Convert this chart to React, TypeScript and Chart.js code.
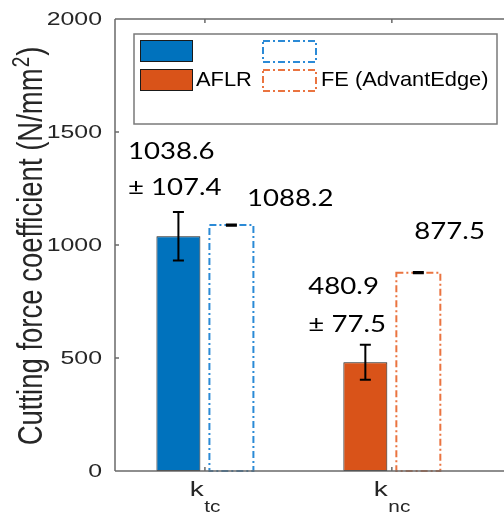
import React, { useEffect, useRef } from 'react';
import { Chart, registerables } from 'chart.js';

Chart.register(...registerables);

// ---- data ----
const categorySubscripts = ['tc', 'nc']; // x labels: k_tc, k_nc
const categoryPositions = [1, 2];
const aflrValues = [1038.6, 480.9];
const aflrErrors = [107.4, 77.5];
const feValues = [1088.2, 877.5];
const feErrors = [3, 3];
const yTicks = [0, 500, 1000, 1500, 2000];
const seriesNames = ['AFLR', 'FE (AdvantEdge)'];
const yTitle = 'Cutting force coefficient (N/mm';
const yTitleSup = '2';

// ---- style ----
const aflrColors = ['#0072BD', '#D95319'];
const feColors = ['#2B8AD6', '#EA7440'];
const AXIS = '#6a6a6a';
const SANS = '"Liberation Sans", Arial, Helvetica, sans-serif';
const LABEL_FONT = 'Lato, "Open Sans", sans-serif';

// label layout offsets (pixels, relative to the bar element / error-bar top)
const labelLayout = [
  [{ dx: -50.5, dy: -53, gap: 35.5 }, { dx: -57, dy: -51, gap: 38 }],
  [{ dx: 15.5, dy: -18.5, gap: 0 }, { dx: -4, dy: -33, gap: 0 }],
];

function drawText(
  ctx: CanvasRenderingContext2D,
  text: string,
  x: number,
  y: number,
  font: string,
  sx: number,
  align: 'left' | 'center' | 'right' = 'left',
  baseline: CanvasTextBaseline = 'alphabetic',
  color = '#000'
) {
  ctx.save();
  ctx.font = font;
  ctx.fillStyle = color;
  ctx.textBaseline = baseline;
  ctx.textAlign = 'left';
  const w = ctx.measureText(text).width * sx;
  let x0 = x;
  if (align === 'center') x0 = x - w / 2;
  else if (align === 'right') x0 = x - w;
  ctx.translate(x0, y);
  ctx.scale(sx, 1);
  ctx.fillText(text, 0, 0);
  ctx.restore();
  return w;
}

const matlabPlugin = {
  id: 'matlabLook',
  afterDatasetsDraw(chart: any) {
    const ctx: CanvasRenderingContext2D = chart.ctx;
    const xs = chart.scales.x;
    const ys = chart.scales.y;
    const area = chart.chartArea;
    const W = chart.width;

    const aflrMeta = chart.getDatasetMeta(0);
    const feMeta = chart.getDatasetMeta(1);

    // dashed FE outlines
    feMeta.data.forEach((el: any, i: number) => {
      const p = el.getProps(['x', 'y', 'base', 'width'], true);
      ctx.save();
      ctx.strokeStyle = feColors[i];
      ctx.lineWidth = 2;
      ctx.setLineDash([7, 3, 2, 3]);
      ctx.strokeRect(p.x - p.width / 2, p.y, p.width, p.base - p.y);
      ctx.restore();
    });

    // error bars
    const errSets = [
      { meta: aflrMeta, vals: aflrValues, errs: aflrErrors },
      { meta: feMeta, vals: feValues, errs: feErrors },
    ];
    errSets.forEach(({ meta, vals, errs }) => {
      meta.data.forEach((el: any, i: number) => {
        const x = el.x;
        const top = ys.getPixelForValue(vals[i] + errs[i]);
        const bot = ys.getPixelForValue(vals[i] - errs[i]);
        ctx.save();
        ctx.strokeStyle = '#000';
        ctx.lineWidth = 2;
        ctx.beginPath();
        ctx.moveTo(x, top);
        ctx.lineTo(x, bot);
        ctx.moveTo(x - 5.5, top);
        ctx.lineTo(x + 5.5, top);
        ctx.moveTo(x - 5.5, bot);
        ctx.lineTo(x + 5.5, bot);
        ctx.stroke();
        ctx.restore();
      });
    });

    // value labels
    const vfont = `24px ${LABEL_FONT}`;
    const vsx = 1.15;
    aflrMeta.data.forEach((el: any, i: number) => {
      const L = labelLayout[0][i];
      const top = ys.getPixelForValue(aflrValues[i] + aflrErrors[i]);
      drawText(ctx, aflrValues[i].toFixed(1), el.x + L.dx, top + L.dy, vfont, vsx);
      drawText(ctx, '\u00B1 ' + aflrErrors[i].toFixed(1), el.x + L.dx, top + L.dy + L.gap, vfont, vsx);
    });
    feMeta.data.forEach((el: any, i: number) => {
      const L = labelLayout[1][i];
      const top = ys.getPixelForValue(feValues[i] + feErrors[i]);
      drawText(ctx, feValues[i].toFixed(1), el.x + L.dx, top + L.dy, vfont, vsx);
    });

    // axes frame
    ctx.save();
    ctx.strokeStyle = AXIS;
    ctx.lineWidth = 1.5;
    ctx.beginPath();
    ctx.moveTo(area.left, area.top);
    ctx.lineTo(W, area.top);
    ctx.moveTo(area.left, area.bottom);
    ctx.lineTo(W, area.bottom);
    ctx.moveTo(area.left, area.top);
    ctx.lineTo(area.left, area.bottom);
    // inward ticks
    yTicks.forEach((t) => {
      const y = ys.getPixelForValue(t);
      ctx.moveTo(area.left, y);
      ctx.lineTo(area.left + 4, y);
    });
    categoryPositions.forEach((c) => {
      const x = xs.getPixelForValue(c);
      ctx.moveTo(x, area.top);
      ctx.lineTo(x, area.top + 4);
      ctx.moveTo(x, area.bottom);
      ctx.lineTo(x, area.bottom - 4);
    });
    ctx.stroke();
    ctx.restore();

    // y tick labels
    yTicks.forEach((t) => {
      const y = ys.getPixelForValue(t);
      drawText(ctx, String(t), area.left - 13, y + 1, `18px ${SANS}`, 1.38, 'right', 'middle', '#262626');
    });

    // x tick labels k_tc / k_nc
    categoryPositions.forEach((c, i) => {
      const x = xs.getPixelForValue(c);
      ctx.save();
      ctx.font = `20px ${SANS}`;
      const kw = ctx.measureText('k').width * 1.4;
      ctx.font = `16px ${SANS}`;
      const sw = ctx.measureText(categorySubscripts[i]).width * 1.3;
      ctx.restore();
      const start = x - (kw + sw) / 2;
      drawText(ctx, 'k', start, area.bottom + 25, `20px ${SANS}`, 1.4, 'left', 'alphabetic', '#262626');
      drawText(ctx, categorySubscripts[i], start + kw + 0.5, area.bottom + 41, `16px ${SANS}`, 1.3, 'left', 'alphabetic', '#262626');
    });

    // y title (rotated, stretched across its height)
    ctx.save();
    ctx.font = `27.5px ${SANS}`;
    const mw = ctx.measureText(yTitle).width;
    ctx.font = `19px ${SANS}`;
    const supw = ctx.measureText(yTitleSup).width;
    ctx.font = `27.5px ${SANS}`;
    const cw = ctx.measureText(')').width;
    const total = mw + supw + cw + 2;
    const cy = (area.top + area.bottom) / 2 + 1;
    ctx.translate(42, cy);
    ctx.rotate(-Math.PI / 2);
    ctx.scale(1, 1.3);
    ctx.fillStyle = '#262626';
    ctx.textBaseline = 'alphabetic';
    ctx.textAlign = 'left';
    let xx = -total / 2;
    ctx.fillText(yTitle, xx, 0);
    xx += mw + 1;
    ctx.font = `19px ${SANS}`;
    ctx.fillText(yTitleSup, xx, -10);
    xx += supw + 1;
    ctx.font = `27.5px ${SANS}`;
    ctx.fillText(')', xx, 0);
    ctx.restore();

    // legend
    const bx = 134, by = 34, bw = 363, bh = 90;
    ctx.save();
    ctx.fillStyle = '#fff';
    ctx.fillRect(bx, by, bw, bh);
    ctx.strokeStyle = '#7a7a7a';
    ctx.lineWidth = 1.5;
    ctx.strokeRect(bx, by, bw, bh);
    ctx.restore();
    const rows = [40, 69];
    rows.forEach((ry, r) => {
      ctx.save();
      ctx.fillStyle = aflrColors[r];
      ctx.fillRect(140, ry, 53, 22);
      ctx.strokeStyle = '#1a1a1a';
      ctx.lineWidth = 1;
      ctx.strokeRect(140.5, ry + 0.5, 52, 21);
      ctx.strokeStyle = feColors[r];
      ctx.lineWidth = 2;
      ctx.setLineDash([7, 3, 2, 3]);
      ctx.strokeRect(263, ry + 1, 53, 21);
      ctx.restore();
      if (r === 1) {
        drawText(ctx, seriesNames[0], 196, ry + 11, `21px ${SANS}`, 1.04, 'left', 'middle', '#000');
        drawText(ctx, seriesNames[1], 321, ry + 11, `21px ${SANS}`, 1.04, 'left', 'middle', '#000');
      }
    });
  },
};

export default function App() {
  const ref = useRef<HTMLCanvasElement>(null);
  useEffect(() => {
    const canvas = ref.current!;
    const chart = new Chart(canvas, {
      type: 'bar',
      data: {
        datasets: [
          {
            label: seriesNames[0],
            data: categoryPositions.map((x, i) => ({ x, y: aflrValues[i] })),
            backgroundColor: aflrColors,
            borderColor: '#1a1a1a',
            borderWidth: 1,
            borderSkipped: false,
            categoryPercentage: 0.567,
            barPercentage: 0.83,
          },
          {
            label: seriesNames[1],
            data: categoryPositions.map((x, i) => ({ x, y: feValues[i] })),
            backgroundColor: 'rgba(0,0,0,0)',
            borderWidth: 0,
            categoryPercentage: 0.567,
            barPercentage: 0.83,
          },
        ],
      } as any,
      options: {
        animation: false,
        responsive: true,
        maintainAspectRatio: false,
        layout: { padding: { left: 115, top: 19, right: 0, bottom: 45 } },
        plugins: { legend: { display: false }, tooltip: { enabled: false } },
        scales: {
          x: {
            type: 'linear',
            min: 0.519,
            max: 2.6,
            display: false,
            offset: false,
            afterBuildTicks: (scale: any) => {
              scale.ticks = categoryPositions.map((v) => ({ value: v }));
            },
          },
          y: { min: 0, max: 2000, display: false },
        },
      } as any,
      plugins: [matlabPlugin],
    });
    return () => chart.destroy();
  }, []);
  return (
    <div style={{ position: 'absolute', left: 0, top: 0, width: 504, height: 516, background: '#fff' }}>
      <canvas ref={ref} />
    </div>
  );
}
